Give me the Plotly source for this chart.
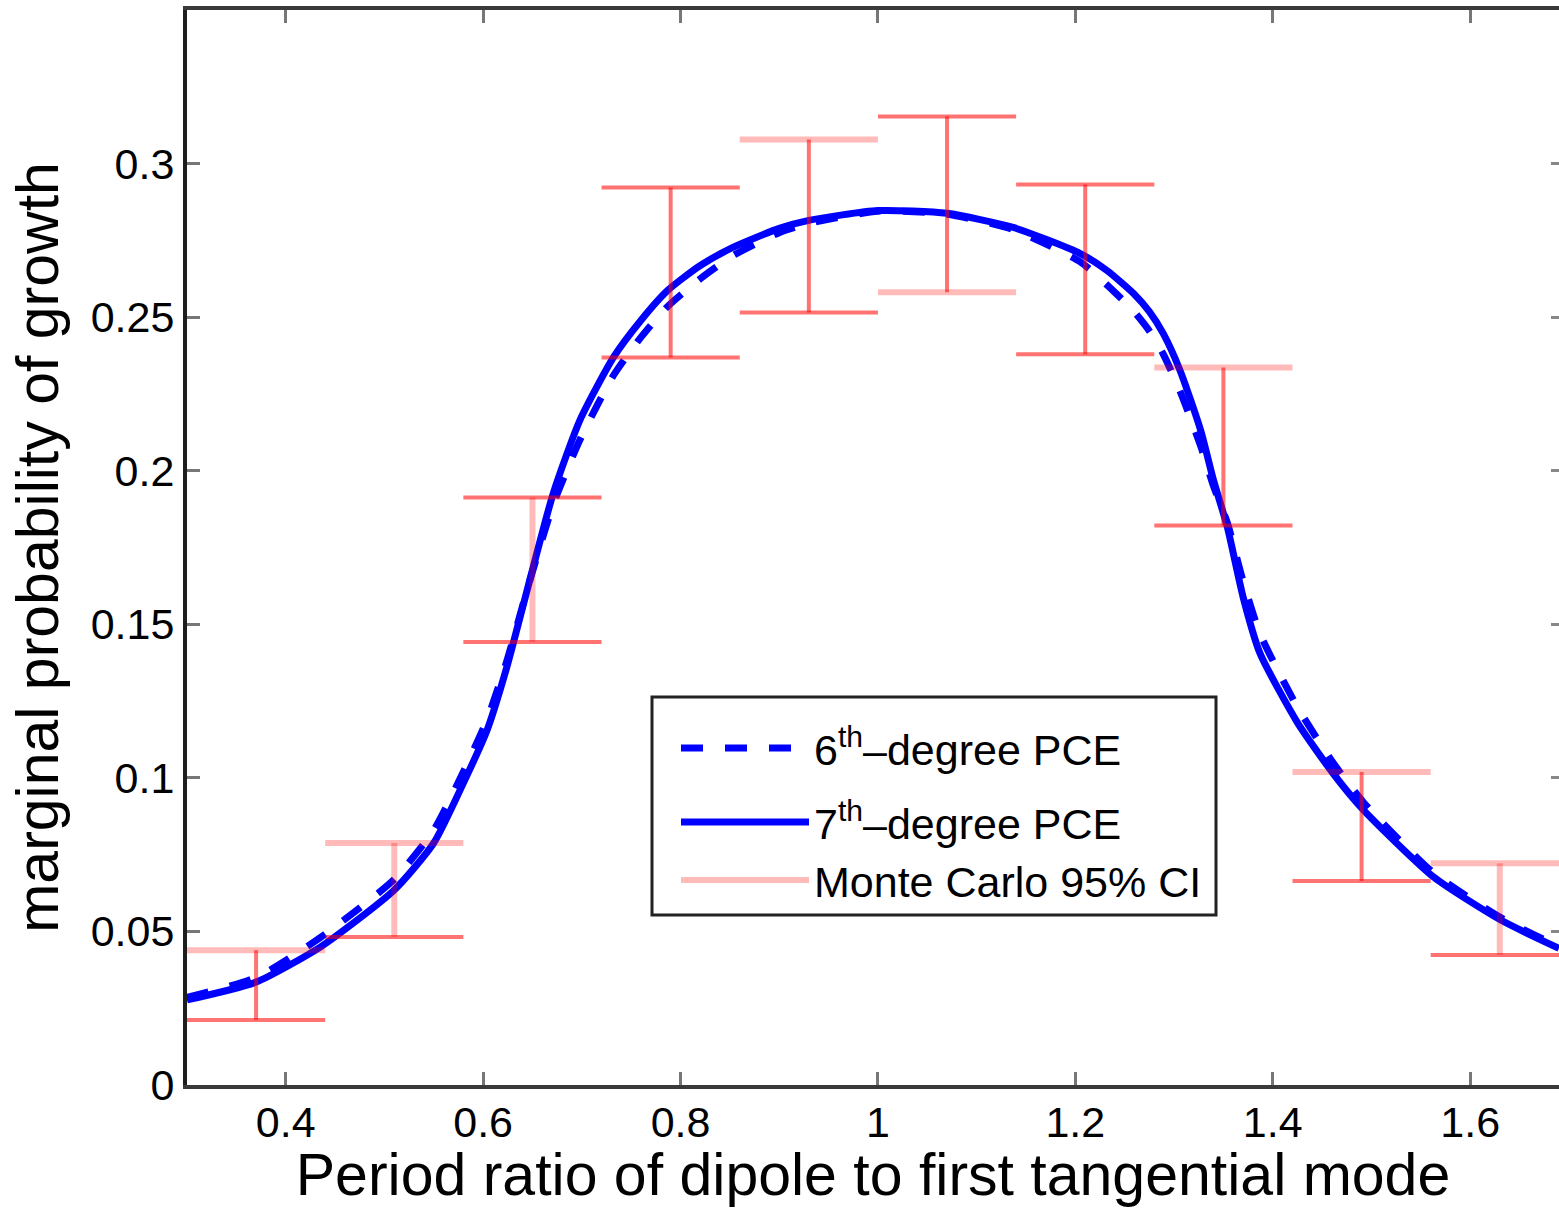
import plotly.graph_objects as go

# ---- data ----
solid_x = [0.30, 0.37, 0.435, 0.51, 0.55, 0.58, 0.604, 0.624, 0.648, 0.671, 0.698, 0.732,
           0.76, 0.787, 0.82, 0.853, 0.90, 0.93, 1.00, 1.07, 1.137, 1.205, 1.232, 1.259, 1.275,
           1.289, 1.306, 1.327, 1.34, 1.354, 1.37, 1.387, 1.425, 1.461, 1.492, 1.563, 1.631, 1.69]
solid_y = [0.0277, 0.0335, 0.0449, 0.0635, 0.0788, 0.0983, 0.1155, 0.136, 0.1653, 0.1926,
           0.2164, 0.2369, 0.2490, 0.2587, 0.2668, 0.2727, 0.2789, 0.2815, 0.2847, 0.2838,
           0.2792, 0.2707, 0.2652, 0.2577, 0.2518, 0.2447, 0.2327, 0.2131, 0.1969, 0.1816,
           0.1588, 0.1406, 0.118, 0.1015, 0.0895, 0.0677, 0.0537, 0.0445]

dashed_x = [0.30, 0.37, 0.435, 0.51, 0.55, 0.58, 0.604, 0.624, 0.648, 0.671, 0.698, 0.732,
            0.76, 0.787, 0.82, 0.853, 0.90, 0.93, 1.00, 1.07, 1.137, 1.205, 1.232, 1.259, 1.275,
            1.289, 1.306, 1.327, 1.34, 1.354, 1.37, 1.387, 1.425, 1.461, 1.492, 1.563, 1.631, 1.69]
dashed_y = [0.0285, 0.035, 0.048, 0.067, 0.083, 0.102, 0.119, 0.138, 0.165, 0.189,
            0.210, 0.231, 0.2435, 0.2535, 0.2625, 0.270, 0.2775, 0.2805, 0.2845, 0.2835,
            0.2785, 0.268, 0.2605, 0.252, 0.2455, 0.238, 0.226, 0.208, 0.195, 0.183,
            0.164, 0.147, 0.123, 0.105, 0.092, 0.069, 0.0545, 0.045]

mc_x = [0.37, 0.51, 0.65, 0.79, 0.93, 1.07, 1.21, 1.35, 1.49, 1.63]
mc_lower = [0.0212, 0.0482, 0.1442, 0.2369, 0.2515, 0.2581, 0.2379, 0.1822, 0.0664, 0.0423]
mc_upper = [0.0439, 0.0788, 0.1913, 0.2922, 0.3078, 0.3153, 0.2932, 0.2336, 0.1019, 0.0722]

# style of each segment (upper cap, vertical, lower cap): 'P' light, 'R' strong
seg_style = ["PRR", "PPR", "RPR", "RRR", "PRR", "RRP", "RRR", "PRR", "PRR", "PPR"]
cap_half = 0.07

x_ticks = [0.4, 0.6, 0.8, 1.0, 1.2, 1.4, 1.6]
x_ticklabels = ["0.4", "0.6", "0.8", "1", "1.2", "1.4", "1.6"]
y_ticks = [0, 0.05, 0.1, 0.15, 0.2, 0.25, 0.3]
y_ticklabels = ["0", "0.05", "0.1", "0.15", "0.2", "0.25", "0.3"]

FONT = "Liberation Sans, Arial, Helvetica, sans-serif"
BLUE = "#0000FF"
RED = "rgba(255,0,0,0.55)"
PINK = "rgba(255,0,0,0.27)"

# plot area geometry in pixels (for placing the legend box)
L, R, T, B = 187, 1559, 10, 1085
def px_x(p):
    return (p - L) / (R - L)
def px_y(p):
    return (B - p) / (B - T)

fig = go.Figure()

fig.add_trace(go.Scatter(x=dashed_x, y=dashed_y, mode="lines",
                         line=dict(color=BLUE, width=7, dash="22px,22px", shape="spline", smoothing=0.6),
                         name="6<sup>th</sup>–degree PCE", legend="legend"))
fig.add_trace(go.Scatter(x=solid_x, y=solid_y, mode="lines",
                         line=dict(color=BLUE, width=7, shape="spline", smoothing=0.6),
                         name="7<sup>th</sup>–degree PCE", legend="legend2"))

segs = {"P": ([], []), "R": ([], [])}
for xc, lo, hi, st in zip(mc_x, mc_lower, mc_upper, seg_style):
    parts = [([xc - cap_half, xc + cap_half], [hi, hi]),
             ([xc, xc], [lo, hi]),
             ([xc - cap_half, xc + cap_half], [lo, lo])]
    for (px, py), s in zip(parts, st):
        segs[s][0].extend(px + [None])
        segs[s][1].extend(py + [None])

fig.add_trace(go.Scatter(x=segs["P"][0], y=segs["P"][1], mode="lines",
                         line=dict(color=PINK, width=6),
                         name="Monte Carlo 95% CI", legend="legend3"))
fig.add_trace(go.Scatter(x=segs["R"][0], y=segs["R"][1], mode="lines",
                         line=dict(color=RED, width=4),
                         showlegend=False))
# helper for the right-hand tick marks
fig.add_trace(go.Scatter(x=[None], y=[None], yaxis="y2", showlegend=False, hoverinfo="skip"))

leg_font = dict(size=43, family=FONT, color="#000000")
def leg(yc):
    return dict(x=px_x(676), y=px_y(yc), xanchor="left", yanchor="middle",
                bgcolor="rgba(0,0,0,0)", borderwidth=0, font=leg_font, itemwidth=128)

fig.update_layout(
    width=1559, height=1208,
    margin=dict(l=187, r=0, t=10, b=123),
    paper_bgcolor="white", plot_bgcolor="white",
    font=dict(family=FONT, color="#000000"),
    xaxis=dict(range=[0.3, 1.69], tickvals=x_ticks, ticktext=x_ticklabels,
               ticks="inside", ticklen=13, tickwidth=3, tickcolor="#777777",
               showline=True, linecolor="#3a3a3a", linewidth=4, mirror="ticks",
               showgrid=False, zeroline=False, ticklabelstandoff=-4,
               tickfont=dict(size=43, family=FONT),
               title=dict(text="Period ratio of dipole to first tangential mode",
                          font=dict(size=59, family=FONT), standoff=10)),
    yaxis=dict(range=[0, 0.35], tickvals=y_ticks, ticktext=y_ticklabels,
               ticks="inside", ticklen=13, tickwidth=3, tickcolor="#777777",
               showline=True, linecolor="#1e1e1e", linewidth=4, mirror=False,
               showgrid=False, zeroline=False,
               tickfont=dict(size=43, family=FONT),
               title=dict(text="marginal probability of growth",
                          font=dict(size=59, family=FONT), standoff=14)),
    yaxis2=dict(range=[0, 0.35], overlaying="y", side="right", tickvals=y_ticks,
                ticks="inside", ticklen=8, tickwidth=3, tickcolor="#888888",
                showticklabels=False, showline=False, showgrid=False, zeroline=False),
    legend=leg(748),
    legend2=leg(822),
    legend3=leg(880),
    shapes=[dict(type="rect", xref="paper", yref="paper",
                 x0=px_x(652), x1=px_x(1216), y0=px_y(915), y1=px_y(697),
                 fillcolor="white", line=dict(color="#222222", width=3), layer="above")],
    showlegend=True,
)

fig.write_html("out.html")
